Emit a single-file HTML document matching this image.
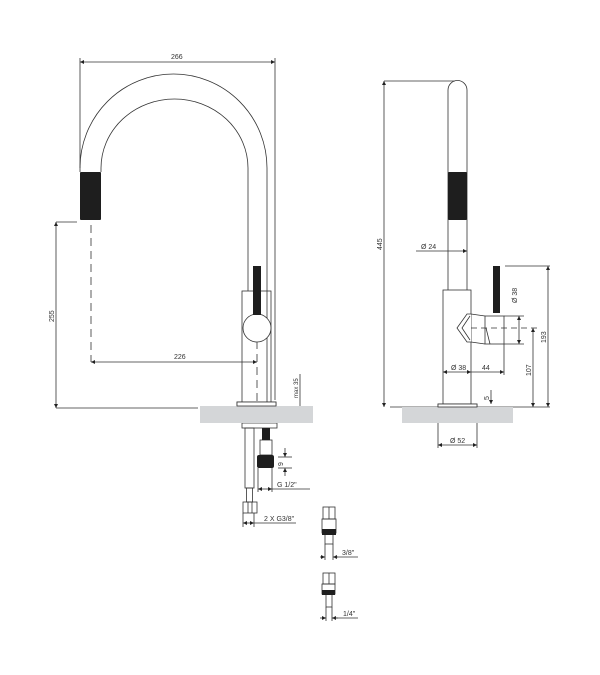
<!DOCTYPE html>
<html><head><meta charset="utf-8"><style>
html,body{margin:0;padding:0;background:#fff;}
svg{display:block}
text{font-family:"Liberation Sans",sans-serif;font-size:7px;fill:#333}
</style></head><body>
<svg width="600" height="675" viewBox="0 0 600 675" xmlns="http://www.w3.org/2000/svg">
<defs>
<marker id="a" viewBox="0 0 6 6" refX="6" refY="3" markerWidth="5" markerHeight="5" orient="auto-start-reverse"><path d="M0,0L6,3L0,6z" fill="#222"/></marker>
</defs>
<g stroke="#333" stroke-width="0.8" fill="none">
<!-- LEFT VIEW -->
<line x1="80" y1="62" x2="275" y2="62" marker-start="url(#a)" marker-end="url(#a)"/>
<line x1="80" y1="58" x2="80" y2="168"/>
<line x1="275" y1="58" x2="275" y2="400"/>
<path d="M80,172 L80,168 A93.5,94 0 0 1 267,168 L267,402"/>
<path d="M101,172 L101,168 A73.5,69 0 0 1 248,168 L248,291"/>
<line x1="91" y1="225" x2="91" y2="362" stroke-dasharray="8,5"/>
<line x1="56" y1="222" x2="77" y2="222"/>
<line x1="56" y1="222" x2="56" y2="408" marker-start="url(#a)" marker-end="url(#a)"/>
<line x1="56" y1="408" x2="198" y2="408"/>
<line x1="91" y1="362" x2="257" y2="362" marker-start="url(#a)" marker-end="url(#a)"/>
<rect x="242" y="291" width="29" height="114"/>
<line x1="257" y1="315" x2="257" y2="410" stroke-dasharray="8,5"/>
<circle cx="257" cy="328" r="14" fill="#fff"/>
<rect x="237" y="402" width="39" height="4"/>
<line x1="300" y1="374" x2="300" y2="423"/>
<line x1="300" y1="408" x2="300" y2="423" marker-start="url(#a)" marker-end="url(#a)"/>
<!-- RIGHT VIEW -->
<path d="M448,290 L448,90 A9.5,9.5 0 0 1 467,90 L467,290"/>
<line x1="384" y1="81" x2="455" y2="81"/>
<line x1="384" y1="81" x2="384" y2="407" marker-start="url(#a)" marker-end="url(#a)"/>
<line x1="416" y1="251" x2="467" y2="251" marker-end="url(#a)"/>
<line x1="448" y1="251" x2="448" y2="251"/>
<rect x="443" y="290" width="28" height="114"/>
<rect x="438" y="404" width="39" height="3"/>
<path d="M471,314 L467,314 L457,328 L467,342 L471,342" fill="#fff"/>
<path d="M470,316 L462,328 L470,340"/>
<rect x="485" y="316" width="19" height="28" fill="#fff"/>
<path d="M471,314 L485,316 M471,342 L485,344 M486,328 L490,344"/>
<line x1="471" y1="328" x2="540" y2="328" stroke-dasharray="6,4"/>
<line x1="505" y1="266" x2="550" y2="266"/>
<line x1="548" y1="266" x2="548" y2="407" marker-start="url(#a)" marker-end="url(#a)"/>
<line x1="533" y1="328" x2="533" y2="407" marker-start="url(#a)" marker-end="url(#a)"/>
<line x1="504" y1="316" x2="524" y2="316"/><line x1="504" y1="344" x2="524" y2="344"/>
<line x1="519" y1="316" x2="519" y2="344" marker-start="url(#a)" marker-end="url(#a)"/>
<line x1="443" y1="372" x2="471" y2="372" marker-start="url(#a)" marker-end="url(#a)"/>
<line x1="471" y1="372" x2="504" y2="372" marker-end="url(#a)"/>
<line x1="504" y1="344" x2="504" y2="375"/>
<line x1="390" y1="407" x2="550" y2="407"/>
<line x1="491" y1="390" x2="491" y2="404" marker-end="url(#a)"/>
<line x1="491" y1="407" x2="491" y2="415"/>
<line x1="438" y1="407" x2="438" y2="448"/><line x1="477" y1="407" x2="477" y2="448"/>
<line x1="438" y1="445" x2="477" y2="445" marker-start="url(#a)" marker-end="url(#a)"/>
<!-- bottom connectors -->
<rect x="242" y="423" width="35" height="5"/>
<rect x="245" y="428" width="9" height="60"/>
<rect x="246.5" y="488" width="6" height="14"/>
<rect x="243" y="502" width="14" height="11"/>
<line x1="248" y1="502" x2="248" y2="513"/><line x1="252" y1="502" x2="252" y2="513"/>
<rect x="260" y="440" width="12" height="15"/>
<line x1="278" y1="457" x2="292" y2="457"/><line x1="278" y1="468" x2="292" y2="468"/>
<line x1="285" y1="448" x2="285" y2="457" marker-end="url(#a)"/>
<line x1="285" y1="476" x2="285" y2="468" marker-end="url(#a)"/>
<line x1="258" y1="468" x2="258" y2="492"/><line x1="272" y1="468" x2="272" y2="492"/>
<line x1="258" y1="489" x2="272" y2="489" marker-start="url(#a)" marker-end="url(#a)"/>
<line x1="272" y1="489" x2="310" y2="489"/>
<line x1="243" y1="513" x2="243" y2="527"/><line x1="254" y1="513" x2="254" y2="527"/>
<line x1="243" y1="523" x2="254" y2="523" marker-start="url(#a)" marker-end="url(#a)"/>
<line x1="254" y1="523" x2="296" y2="523"/>
<!-- fittings -->
<rect x="323" y="507" width="12" height="12"/>
<line x1="329" y1="507" x2="329" y2="519"/>
<rect x="322" y="519" width="14" height="14"/>
<rect x="325" y="533" width="8" height="11"/>
<line x1="325" y1="544" x2="325" y2="560"/><line x1="333" y1="544" x2="333" y2="560"/>
<line x1="320" y1="557" x2="325" y2="557" marker-end="url(#a)"/>
<line x1="338" y1="557" x2="333" y2="557" marker-end="url(#a)"/>
<line x1="333" y1="557" x2="358" y2="557"/>
<rect x="323" y="573" width="12" height="11"/>
<line x1="329" y1="573" x2="329" y2="584"/>
<rect x="322" y="584" width="13" height="10"/>
<rect x="326" y="594" width="6" height="13"/>
<line x1="326" y1="607" x2="326" y2="621"/><line x1="332" y1="607" x2="332" y2="621"/>
<line x1="320" y1="618" x2="326" y2="618" marker-end="url(#a)"/>
<line x1="338" y1="618" x2="332" y2="618" marker-end="url(#a)"/>
<line x1="332" y1="618" x2="358" y2="618"/>
</g>
<!-- fills -->
<rect x="200" y="406" width="113" height="17" fill="#d4d6d8"/>
<rect x="237" y="402" width="39" height="4" fill="#fff" stroke="#333" stroke-width="0.8"/>
<rect x="402" y="407" width="111" height="16" fill="#d4d6d8"/>
<rect x="438" y="404" width="39" height="3" fill="#fff" stroke="#333" stroke-width="0.8"/>
<g fill="#1e1e1e">
<rect x="80" y="172" width="21" height="48" rx="1"/>
<rect x="253" y="266" width="8" height="49"/>
<rect x="448" y="172" width="19" height="48" rx="1"/>
<rect x="493" y="266" width="7" height="47"/>
<rect x="262" y="428" width="8" height="12"/>
<rect x="257" y="455" width="17" height="13" rx="2"/>
<rect x="322" y="529" width="14" height="6"/>
<rect x="322" y="590" width="13" height="5"/>
</g>
<g>
<text x="171" y="59">266</text>
<text x="174" y="359">226</text>
<text transform="translate(54,322) rotate(-90)">255</text>
<text transform="translate(298,398) rotate(-90)" style="font-size:6px">max 35</text>
<text transform="translate(382,250) rotate(-90)">445</text>
<text x="421" y="249">Ø 24</text>
<text transform="translate(517,303) rotate(-90)">Ø 38</text>
<text transform="translate(546,343) rotate(-90)">193</text>
<text transform="translate(531,376) rotate(-90)">107</text>
<text x="451" y="370">Ø 38</text>
<text x="482" y="370">44</text>
<text transform="translate(489,400) rotate(-90)">5</text>
<text x="450" y="443">Ø 52</text>
<text transform="translate(283,466) rotate(-90)">9</text>
<text x="277" y="487">G 1/2"</text>
<text x="264" y="521">2 X G3/8"</text>
<text x="342" y="555">3/8"</text>
<text x="343" y="616">1/4"</text>
</g>
</svg>
</body></html>
